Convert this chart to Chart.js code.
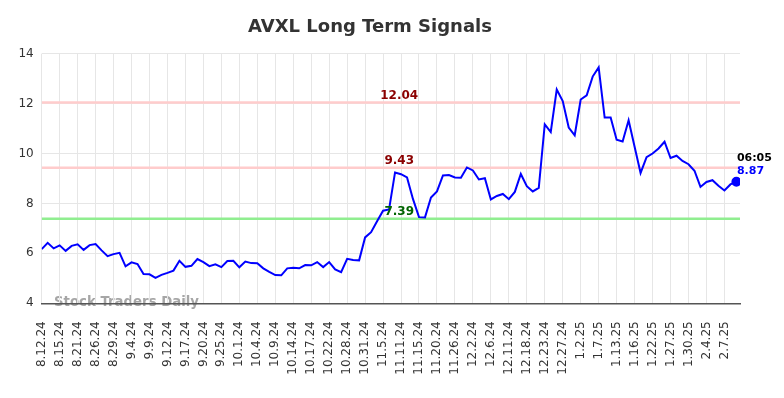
<!DOCTYPE html>
<html>
<head>
<meta charset="utf-8">
<script src="https://cdn.jsdelivr.net/npm/chart.js@4/dist/chart.umd.min.js"></script>
<style>
html,body{margin:0;padding:0;background:#fff;}
#wrap{width:784px;height:398px;position:relative;}
</style>
</head>
<body>
<div id="wrap"><canvas id="c" width="784" height="398"></canvas></div>
<script>
const tickLabels = ['8.12.24','8.15.24','8.21.24','8.26.24','8.29.24','9.4.24','9.9.24','9.12.24','9.17.24','9.20.24','9.25.24','10.1.24','10.4.24','10.9.24','10.14.24','10.17.24','10.22.24','10.28.24','10.31.24','11.5.24','11.11.24','11.15.24','11.20.24','11.26.24','12.2.24','12.6.24','12.11.24','12.18.24','12.23.24','12.27.24','1.2.25','1.7.25','1.13.25','1.16.25','1.22.25','1.27.25','1.30.25','2.4.25','2.7.25'];
const pointsPerTick = 3;
const prices = [6.17,6.42,6.20,6.32,6.10,6.30,6.36,6.14,6.33,6.37,
 6.12,5.89,5.97,6.02,5.48,5.64,5.57,5.17,5.16,5.02,
 5.14,5.22,5.31,5.70,5.46,5.50,5.77,5.65,5.49,5.56,
 5.45,5.69,5.70,5.44,5.67,5.61,5.60,5.40,5.26,5.13,
 5.12,5.40,5.42,5.40,5.53,5.52,5.65,5.45,5.65,5.36,
 5.25,5.78,5.73,5.72,6.64,6.85,7.29,7.71,7.76,9.24,
 9.17,9.04,8.17,7.45,7.44,8.24,8.48,9.12,9.14,9.04,
 9.03,9.44,9.32,8.96,9.01,8.16,8.30,8.38,8.17,8.46,
 9.18,8.69,8.48,8.62,11.17,10.86,12.56,12.10,11.04,10.73,
 12.16,12.33,13.08,13.45,11.44,11.44,10.55,10.48,11.33,10.27,
 9.22,9.85,10.00,10.20,10.47,9.82,9.91,9.70,9.57,9.31,
 8.66,8.86,8.93,8.71,8.52,8.76,8.87];
const resistanceLevels = [12.04, 9.43];
const supportLevels = [7.39];
const lastTime = '06:05';
const yTicks = [4,6,8,10,12,14];
const xMin = 0, xMax = 116.6, levelLabelX = 59.7;

const priceData = prices.map((v,i)=>({x:i,y:v}));
const levelDataset = (lvl,color)=>({
  data:[{x:xMin,y:lvl},{x:xMax,y:lvl}],
  borderColor:color, borderWidth:2.5, pointRadius:0, fill:false, order:2
});

const overlay = {
  id:'overlay',
  beforeDraw(chart){
    const ctx = chart.ctx, a = chart.chartArea;
    ctx.save();
    ctx.font = 'bold 13.3px "DejaVu Sans"';
    ctx.fillStyle = 'rgba(150,150,150,0.85)';
    ctx.textAlign = 'left'; ctx.textBaseline = 'middle';
    ctx.fillText('Stock Traders Daily', 54, a.bottom - 1);
    ctx.restore();
  },
  afterDatasetsDraw(chart){
    const ctx = chart.ctx, xs = chart.scales.x, ys = chart.scales.y;
    ctx.save();
    ctx.font = 'bold 12px "DejaVu Sans"';
    ctx.textAlign = 'center'; ctx.textBaseline = 'alphabetic';
    const lx = xs.getPixelForValue(levelLabelX);
    resistanceLevels.forEach(l=>{
      ctx.fillStyle = '#8b0000';
      ctx.fillText(l.toFixed(2), lx, ys.getPixelForValue(l) - 3.5);
    });
    supportLevels.forEach(l=>{
      ctx.fillStyle = '#006400';
      ctx.fillText(l.toFixed(2), lx, ys.getPixelForValue(l) - 3.5);
    });
    const li = prices.length - 1;
    const px = xs.getPixelForValue(li), py = ys.getPixelForValue(prices[li]);
    ctx.textAlign = 'left'; ctx.textBaseline = 'middle';
    ctx.font = 'bold 11px "DejaVu Sans"';
    ctx.fillStyle = '#000';
    ctx.fillText(lastTime, px + 0.5, py - 23.5);
    ctx.fillStyle = '#0000ff';
    ctx.fillText(prices[li].toFixed(2), px + 0.5, py - 10.5);
    ctx.restore();
  }
};

new Chart(document.getElementById('c'), {
  type:'line',
  data:{datasets:[
    {data:priceData, borderColor:'#0000ff', backgroundColor:'#0000ff', borderWidth:2,
     pointRadius:ctx=>ctx.dataIndex===prices.length-1?4:0, pointHoverRadius:0,
     tension:0, fill:false, order:1},
    ...resistanceLevels.map(l=>levelDataset(l,'#ffcccc')),
    ...supportLevels.map(l=>levelDataset(l,'#90ee90'))
  ]},
  plugins:[overlay],
  options:{
    responsive:false, animation:false, devicePixelRatio:1,
    layout:{padding:{left:0,right:44,top:0,bottom:0}},
    plugins:{
      legend:{display:false}, tooltip:{enabled:false},
      title:{display:true, text:'AVXL Long Term Signals', color:'#333',
        font:{family:'"DejaVu Sans"', size:18, weight:'bold'},
        padding:{top:17, bottom:15}}
    },
    scales:{
      x:{type:'linear', min:xMin, max:xMax,
        afterBuildTicks(s){ s.ticks = tickLabels.map((_,k)=>({value:k*pointsPerTick})); },
        afterFit(s){ s.height = 94.7; },
        grid:{color:'#e6e6e6', lineWidth:1, drawTicks:false},
        border:{color:'#555', width:1.5},
        ticks:{autoSkip:false, minRotation:90, maxRotation:90, padding:18, color:'#333',
          font:{family:'"DejaVu Sans"', size:12},
          callback:(v)=>tickLabels[Math.round(v/pointsPerTick)]}
      },
      y:{type:'linear', min:4, max:14,
        afterBuildTicks(s){ s.ticks = yTicks.map(v=>({value:v})); },
        afterFit(s){ s.width = 41.7; },
        grid:{color:'#e6e6e6', lineWidth:1, drawTicks:false},
        border:{display:false},
        ticks:{padding:8, color:'#333', font:{family:'"DejaVu Sans"', size:12}}
      }
    }
  }
});
</script>
</body>
</html>
